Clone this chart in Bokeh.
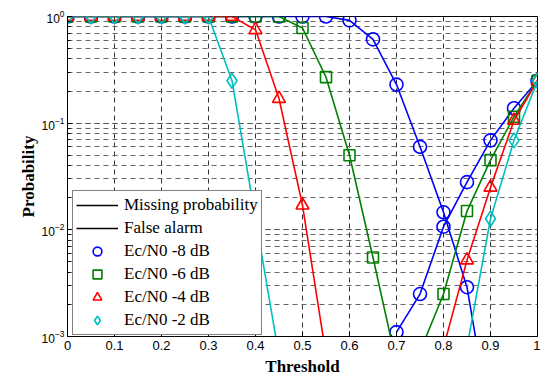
import math
from bokeh.plotting import figure
from bokeh.models import (FixedTicker, LogTicker, Legend, LegendItem,
                          CustomJSTickFormatter, Range1d)
from bokeh.embed import file_html
from bokeh.resources import INLINE

nan = float("nan")

thresholds = [0.00, 0.05, 0.10, 0.15, 0.20, 0.25, 0.30, 0.35, 0.40, 0.45, 0.50,
              0.55, 0.60, 0.65, 0.70, 0.75, 0.80, 0.85, 0.90, 0.95, 1.00]

# Missing probability
miss_m8 = [1, 1, 1, 1, 1, 1, 1, 1, 1, 1, 1, 1, 0.92, 0.61, 0.23, 0.06, 0.0146, 0.0029, 0.00015, nan, nan]
miss_m6 = [1, 1, 1, 1, 1, 1, 1, 1, 1, 1, 0.78, 0.27, 0.05, 0.0055, 0.00056, nan, nan, nan, nan, nan, nan]
miss_m4 = [1, 1, 1, 1, 1, 1, 1, 1, 0.75, 0.17, 0.017, 0.00067, nan, nan, nan, nan, nan, nan, nan, nan, nan]
miss_m2 = [1, 1, 1, 1, 1, 1, 1, 0.25, 0.0128, 0.00066, nan, nan, nan, nan, nan, nan, nan, nan, nan, nan, nan]

# False alarm
fa_m8 = [nan, nan, nan, nan, nan, nan, nan, nan, nan, nan, nan, nan, nan, nan, 0.0011, 0.0025, 0.0107, 0.028, 0.069, 0.138, 0.25]
fa_m6 = [nan, nan, nan, nan, nan, nan, nan, nan, nan, nan, nan, nan, nan, nan, nan, 0.00072, 0.0025, 0.015, 0.045, 0.115, 0.25]
fa_m4 = [nan, nan, nan, nan, nan, nan, nan, nan, nan, nan, nan, nan, nan, nan, nan, nan, 0.00079, 0.0052, 0.025, 0.106, 0.25]
fa_m2 = [nan, nan, nan, nan, nan, nan, nan, nan, nan, nan, nan, nan, nan, nan, nan, nan, nan, 0.0008, 0.0127, 0.069, 0.25]

series_labels = ["Ec/N0 -8 dB", "Ec/N0 -6 dB", "Ec/N0 -4 dB", "Ec/N0 -2 dB"]
x_ticks = [0, 0.1, 0.2, 0.3, 0.4, 0.5, 0.6, 0.7, 0.8, 0.9, 1]

colors = ["#0000FF", "#008000", "#FF0000", "#00BFBF"]
markers = ["circle", "square", "triangle", "diamond"]
msizes = [13, 11, 13, 15]

p = figure(width=540, height=379, output_backend="svg", toolbar_location=None,
           y_axis_type="log", x_range=Range1d(0, 1), y_range=Range1d(1e-3, 1),
           min_border_left=67, min_border_right=3, min_border_top=16, min_border_bottom=43)
p.background_fill_color = "white"
p.border_fill_color = "white"
p.outline_line_color = "black"
p.outline_line_width = 1

# axes
p.xaxis.ticker = FixedTicker(ticks=x_ticks)
p.xaxis.formatter = CustomJSTickFormatter(code="return tick.toFixed(1).replace(/\\.0$/, '');")
p.yaxis.ticker = LogTicker(num_minor_ticks=10)
for ax in (p.xaxis[0], p.yaxis[0]):
    ax.major_tick_in = 5
    ax.major_tick_out = 0
    ax.minor_tick_in = 3
    ax.minor_tick_out = 0
    ax.axis_line_color = "black"
    ax.major_tick_line_color = "black"
    ax.minor_tick_line_color = "black"
    ax.major_label_text_font = "Liberation Sans"
    ax.major_label_text_color = "black"
    ax.axis_label_text_font = "Liberation Serif"
    ax.axis_label_text_font_style = "bold"
    ax.axis_label_text_font_size = "17px"
    ax.axis_label_text_color = "black"
p.xaxis.major_label_text_font_size = "13px"
p.yaxis.major_label_text_font_size = "12px"
p.xaxis.axis_label = "Threshold"
p.yaxis.axis_label = "Probability"
p.xaxis.major_label_standoff = 4
p.yaxis.major_label_standoff = 3
p.xaxis.axis_label_standoff = 4
p.yaxis.axis_label_standoff = 1

# grids
p.xgrid.ticker = FixedTicker(ticks=x_ticks)
p.xgrid.grid_line_color = "#333333"
p.xgrid.grid_line_dash = "5 4"
p.xgrid.grid_line_width = 1
p.ygrid.grid_line_color = "#555555"
p.ygrid.grid_line_dash = "5 4"
p.ygrid.minor_grid_line_color = "#666666"
p.ygrid.minor_grid_line_dash = "5 4"

# data
miss = [miss_m8, miss_m6, miss_m4, miss_m2]
fa = [fa_m8, fa_m6, fa_m4, fa_m2]
for i in range(4):
    for ys in (miss[i], fa[i]):
        p.line(thresholds, ys, line_color=colors[i], line_width=1.6)
        p.scatter(thresholds, ys, marker=markers[i], size=msizes[i], fill_color=None,
                  line_color=colors[i], line_width=1.6)

# legend (proxy renderers placed outside the visible range)
items = []
r1 = p.line([5, 6], [1e-6, 1e-6], line_color="black", line_width=1.6)
r2 = p.line([5, 6], [1e-6, 1e-6], line_color="black", line_width=1.6)
items.append(LegendItem(label="Missing probability", renderers=[r1]))
items.append(LegendItem(label="False alarm", renderers=[r2]))
for i in range(4):
    r = p.scatter([5], [1e-6], marker=markers[i], size=msizes[i], fill_color=None,
                  line_color=colors[i], line_width=1.6)
    items.append(LegendItem(label=series_labels[i], renderers=[r]))

legend = Legend(items=items, location=(5, 1), margin=0, padding=3, spacing=1,
                label_text_font="Liberation Serif", label_text_font_size="17px",
                label_text_color="black", glyph_width=42, glyph_height=22, label_height=22,
                label_standoff=6, border_line_color="black", border_line_width=1,
                background_fill_color="white", background_fill_alpha=1)
p.add_layout(legend, "center")

open("out.html", "w").write(file_html(p, INLINE))
